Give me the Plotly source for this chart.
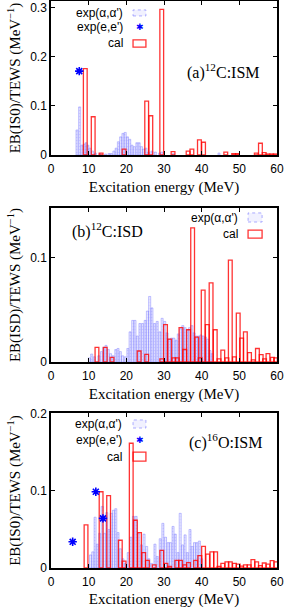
import plotly.graph_objects as go

# ---------------- data ----------------
# panel (a) 12C ISM
cal_a_x = [9.1, 11.2, 13.3, 19.4, 25.4, 26.5, 29.4, 32.4, 36.4, 37.4, 39.4, 40.5, 46.4, 48.5, 49.5, 54.5, 55.6, 56.6, 57.6, 58.6, 59.5]
cal_a_y = [0.176, 0.078, 0.004, 0.012, 0.110, 0.080, 0.297, 0.007, 0.008, 0.012, 0.031, 0.026, 0.006, 0.003, 0.003, 0.004, 0.024, 0.005, 0.002, 0.002, 0.002]
exp_a_x = [6.9, 7.6, 8.2, 8.8, 9.3, 9.8, 10.3, 11.0, 11.8, 13.0, 14.5, 15.4, 16.0, 16.7, 17.3, 17.9, 18.5, 19.1, 19.7, 20.3, 20.9, 21.5,
           22.1, 22.8, 23.4, 24.0, 24.6, 25.2, 25.9, 26.8, 27.7, 28.8, 29.4, 32.5, 44.6]
exp_a_y = [0.051, 0.098, 0.020, 0.022, 0.025, 0.020, 0.014, 0.008, 0.004, 0.003, 0.002, 0.003, 0.003, 0.008, 0.014, 0.027, 0.037, 0.044,
           0.046, 0.037, 0.032, 0.020, 0.017, 0.025, 0.025, 0.017, 0.012, 0.014, 0.006, 0.008, 0.006, 0.004, 0.006, 0.003, 0.004]
ee_a_x = [7.5]
ee_a_y = [0.171]

# panel (b) 12C ISD
cal_b_x = [12.2, 14.4, 16.2, 23.4, 25.4, 29.4, 30.4, 31.5, 32.6, 33.5, 34.5, 35.5, 36.5, 37.6, 38.7, 39.6, 40.4, 41.5, 42.5, 43.6,
           44.6, 45.6, 46.7, 47.6, 48.7, 49.7, 50.6, 51.6, 52.7, 53.7, 54.8, 55.8, 56.7, 57.6, 58.8, 59.6]
cal_b_y = [0.014, 0.014, 0.0045, 0.0106, 0.0074, 0.003, 0.036, 0.022, 0.004, 0.004, 0.033, 0.012, 0.031, 0.129, 0.024, 0.004, 0.069,
           0.036, 0.076, 0.031, 0.003, 0.0115, 0.004, 0.098, 0.005, 0.047, 0.023, 0.029, 0.009, 0.002, 0.013, 0.007, 0.003, 0.008, 0.0045, 0.004]
exp_b_x = [10.2, 10.8, 11.5, 12.7, 13.4, 14.0, 14.6, 15.2, 15.8, 16.5, 17.2, 17.8, 18.4, 19.0, 19.7, 20.4, 21.0, 21.7, 22.3, 22.9,
           23.6, 24.3, 25.0, 25.6, 26.2, 26.8, 27.5, 28.2, 28.9, 29.5, 30.2, 30.8, 31.4, 32.0, 32.6, 33.2, 33.8, 34.4, 35.0, 35.6,
           36.2, 36.8, 37.4, 38.0, 38.6, 39.2, 39.8, 40.4, 41.0, 41.6, 42.2, 42.8]
exp_b_y = [0.004, 0.0077, 0.005, 0.006, 0.010, 0.014, 0.016, 0.012, 0.008, 0.006, 0.012, 0.013, 0.010, 0.006, 0.005, 0.013, 0.029,
           0.040, 0.040, 0.025, 0.037, 0.037, 0.040, 0.049, 0.063, 0.052, 0.037, 0.039, 0.029, 0.042, 0.039, 0.028, 0.022, 0.023,
           0.023, 0.021, 0.027, 0.032, 0.035, 0.033, 0.031, 0.033, 0.035, 0.028, 0.025, 0.025, 0.026, 0.025, 0.024, 0.022, 0.011, 0.008]

# panel (c) 16O ISM
cal_c_x = [9.3, 13.3, 15.3, 18.4, 19.4, 21.3, 22.4, 23.5, 24.6, 25.6, 27.4, 29.4, 30.5, 31.5, 33.4, 34.4, 35.5, 36.5, 38.4, 39.5,
           40.5, 41.6, 42.7, 43.7, 44.6, 45.6, 46.7, 47.6, 48.7, 49.7, 50.6, 51.6, 52.6, 53.6, 54.6, 55.6, 56.6, 57.6, 58.7, 59.7]
cal_c_y = [0.056, 0.099, 0.094, 0.036, 0.009, 0.162, 0.062, 0.046, 0.020, 0.010, 0.004, 0.023, 0.006, 0.002, 0.010, 0.010, 0.004,
           0.007, 0.010, 0.016, 0.028, 0.018, 0.021, 0.021, 0.002, 0.006, 0.008, 0.008, 0.006, 0.005, 0.0025, 0.004, 0.004, 0.011,
           0.008, 0.003, 0.0065, 0.005, 0.0095, 0.008]
exp_c_x = [10.5, 11.1, 11.7, 12.3, 12.9, 13.6, 14.2, 14.8, 15.4, 16.0, 16.6, 17.2, 17.8, 18.4, 19.1, 19.7, 20.5, 21.2, 21.9, 22.6,
           23.3, 24.0, 24.7, 25.4, 26.0, 26.7, 27.6, 28.2, 29.0, 29.7, 30.4, 31.1, 31.7, 32.4, 33.0, 33.7, 34.3, 34.9, 35.6, 36.2,
           36.9, 37.5, 38.1, 38.7, 39.4, 40.0]
exp_c_y = [0.017, 0.021, 0.066, 0.031, 0.045, 0.080, 0.045, 0.072, 0.050, 0.071, 0.075, 0.077, 0.046, 0.025, 0.012, 0.006, 0.020,
           0.040, 0.067, 0.067, 0.045, 0.030, 0.044, 0.028, 0.012, 0.006, 0.031, 0.015, 0.038, 0.058, 0.040, 0.033, 0.033, 0.054,
           0.044, 0.020, 0.071, 0.030, 0.043, 0.020, 0.050, 0.028, 0.033, 0.033, 0.035, 0.012]
ee_c_x = [5.75, 11.9, 13.8]
ee_c_y = [0.034, 0.099, 0.0645]

x_ticks = [0, 10, 20, 30, 40, 50, 60]
y_title_a = "EB(IS0)/TEWS (MeV<sup>−1</sup>)"
y_title_b = "EB(ISD)/TEWS (MeV<sup>−1</sup>)"
x_title = "Excitation energy (MeV)"

# ---------------- styles ----------------
BLUE_FILL = "rgba(175,175,255,0.25)"
BLUE_LINE = "rgba(120,120,255,0.60)"
RED_LINE = "rgba(255,0,0,0.80)"
SERIF = "Liberation Serif"
SANS = "Liberation Sans"

fig = go.Figure()

panels = [
    ("", exp_a_x, exp_a_y, cal_a_x, cal_a_y, ee_a_x, ee_a_y),
    ("2", exp_b_x, exp_b_y, cal_b_x, cal_b_y, None, None),
    ("3", exp_c_x, exp_c_y, cal_c_x, cal_c_y, ee_c_x, ee_c_y),
]
for sfx, ex, ey, cx, cy, sx, sy in panels:
    fig.add_trace(go.Bar(x=ex, y=ey, width=0.55, xaxis="x" + sfx, yaxis="y" + sfx,
                         marker=dict(color=BLUE_FILL, line=dict(color=BLUE_LINE, width=0.7),
                                     pattern=dict(shape=".", fgcolor="rgba(100,100,255,0.5)", size=3, solidity=0.3)),
                         showlegend=False, name="exp(α,α')"))
    fig.add_trace(go.Bar(x=cx, y=cy, width=1.0, xaxis="x" + sfx, yaxis="y" + sfx,
                         marker=dict(color="rgba(0,0,0,0)", line=dict(color=RED_LINE, width=1.3)),
                         showlegend=False, name="cal"))
    if sx is not None:
        fig.add_trace(go.Scatter(x=sx, y=sy, mode="markers", xaxis="x" + sfx, yaxis="y" + sfx,
                                 marker=dict(symbol="asterisk-open", size=7, color="blue",
                                             line=dict(color="blue", width=1.6)),
                                 showlegend=False, name="exp(e,e')"))

axis_common = dict(showline=True, linewidth=1.5, linecolor="black", mirror="ticks",
                   ticks="inside", ticklen=4, tickwidth=1, tickcolor="black",
                   showgrid=False, zeroline=False, automargin=False,
                   tickfont=dict(family=SANS, size=12, color="black"))

domains = {"": [0.7284, 1.0], "2": [0.3633, 0.6349], "3": [0.0, 0.2734]}
yranges = {"": [0, 0.314], "2": [0, 0.148], "3": [0, 0.2013]}
ytickv = {"": [0, 0.1, 0.2, 0.3], "2": [0, 0.1], "3": [0, 0.1, 0.2]}
ytitles = {"": y_title_a, "2": y_title_b, "3": y_title_a}

layout = dict(
    width=286, height=608,
    margin=dict(l=51, r=9, t=1, b=40),
    paper_bgcolor="white", plot_bgcolor="white",
    barmode="overlay", showlegend=False,
)
for sfx in ["", "2", "3"]:
    xa = dict(axis_common, range=[0, 60], tickvals=x_ticks, anchor="y" + sfx, domain=[0, 1],
              ticklabelstandoff=2,
              title=dict(text=x_title, font=dict(family=SERIF, size=15, color="black"), standoff=6))
    ya = dict(axis_common, range=yranges[sfx], tickvals=ytickv[sfx], domain=domains[sfx], anchor="x" + sfx,
              title=dict(text=ytitles[sfx], font=dict(family=SERIF, size=15, color="black"), standoff=6))
    layout["xaxis" + sfx] = xa
    layout["yaxis" + sfx] = ya
fig.update_layout(**layout)

# ---------------- legends (drawn as keys) & panel labels ----------------
def txt(xref, yref, x, y, text, size=12, family=SANS, xanchor="right", color="black"):
    fig.add_annotation(xref=xref, yref=yref, x=x, y=y, text=text, showarrow=False,
                       xanchor=xanchor, yanchor="middle", font=dict(family=family, size=size, color=color))

def box(xref, yref, x0, x1, y0, y1, kind):
    if kind == "exp":
        fig.add_shape(type="rect", xref=xref, yref=yref, x0=x0, x1=x1, y0=y0, y1=y1,
                      fillcolor="rgba(200,200,255,0.25)", line=dict(color=BLUE_LINE, width=1, dash="dot"))
    else:
        fig.add_shape(type="rect", xref=xref, yref=yref, x0=x0, x1=x1, y0=y0, y1=y1,
                      fillcolor="rgba(0,0,0,0)", line=dict(color=RED_LINE, width=1.3))

# panel a
xr, yr = "x domain", "y domain"
txt(xr, yr, 0.327, 0.922, "exp(α,α')")
box(xr, yr, 0.363, 0.420, 0.903, 0.942, "exp")
txt(xr, yr, 0.327, 0.831, "exp(e,e')")
txt(xr, yr, 0.394, 0.831, "✱", size=9, family="DejaVu Sans", xanchor="center", color="blue")
txt(xr, yr, 0.327, 0.727, "cal")
box(xr, yr, 0.363, 0.420, 0.701, 0.747, "cal")
txt(xr, yr, 0.593, 0.539, "(a)<sup>12</sup>C:ISM", size=16, family=SERIF, xanchor="left")

# panel b
xr, yr = "x2 domain", "y2 domain"
txt(xr, yr, 0.836, 0.935, "exp(α,α')")
box(xr, yr, 0.872, 0.934, 0.909, 0.968, "exp")
txt(xr, yr, 0.836, 0.831, "cal")
box(xr, yr, 0.872, 0.934, 0.805, 0.857, "cal")
txt(xr, yr, 0.084, 0.857, "(b)<sup>12</sup>C:ISD", size=16, family=SERIF, xanchor="left")

# panel c
xr, yr = "x3 domain", "y3 domain"
txt(xr, yr, 0.323, 0.929, "exp(α,α')")
box(xr, yr, 0.363, 0.420, 0.903, 0.955, "exp")
txt(xr, yr, 0.323, 0.826, "exp(e,e')")
txt(xr, yr, 0.394, 0.826, "✱", size=9, family="DejaVu Sans", xanchor="center", color="blue")
txt(xr, yr, 0.323, 0.716, "cal")
box(xr, yr, 0.363, 0.420, 0.690, 0.748, "cal")
txt(xr, yr, 0.602, 0.819, "(c)<sup>16</sup>O:ISM", size=16, family=SERIF, xanchor="left")

fig.write_html("out.html", config={"displayModeBar": False},
               post_script="document.body.style.margin='0';document.body.style.padding='0';")
